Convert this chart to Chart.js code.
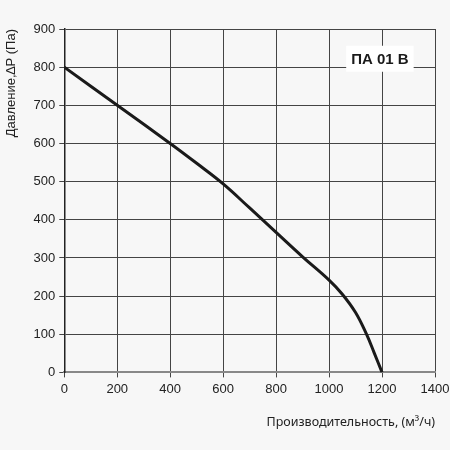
<!DOCTYPE html>
<html>
<head>
<meta charset="utf-8">
<script src="https://cdn.jsdelivr.net/npm/chart.js@4.4.0/dist/chart.umd.min.js"></script>
<style>
  html, body { margin: 0; padding: 0; background: #f7f7f7; }
  #wrap { width: 450px; height: 450px; }
</style>
</head>
<body>
<div id="wrap"><canvas id="fan_curve"></canvas></div>
<script>
// flow (m3/h) and pressure (Pa)
const flow = [0, 200, 400, 500, 600, 700, 800, 900, 1000, 1050, 1100, 1140, 1170, 1200];
const pressure = [800, 700, 600, 548, 494, 431, 367, 303, 242, 205, 157, 102, 52, 0];
const xTicks = [0, 200, 400, 600, 800, 1000, 1200, 1400];
const yTicks = [0, 100, 200, 300, 400, 500, 600, 700, 800, 900];
const modelName = 'ПА 01 В';

const labelBox = {
    id: 'labelBox',
    afterDraw(chart) {
        const ctx = chart.ctx;
        const x = chart.scales.x.getPixelForValue(1192);
        const y = chart.scales.y.getPixelForValue(822);
        ctx.save();
        ctx.font = 'bold 15px "Liberation Sans", Arial, sans-serif';
        const w = ctx.measureText(modelName).width + 10;
        ctx.fillStyle = '#ffffff';
        ctx.fillRect(x - w / 2, y - 13, w, 26);
        ctx.fillStyle = '#1a1a1a';
        ctx.textAlign = 'center';
        ctx.textBaseline = 'middle';
        ctx.fillText(modelName, x, y + 1);
        ctx.restore();
    }
};

const ctx = document.getElementById('fan_curve').getContext('2d');
const fanChart = new Chart(ctx, {
    type: 'line',
    data: {
        datasets: [{
            label: modelName,
            data: flow.map((f, i) => ({ x: f, y: pressure[i] })),
            borderColor: '#1a1a1a',
            borderWidth: 3,
            pointRadius: 0,
            tension: 0.4,
            fill: false
        }]
    },
    options: {
        responsive: true,
        maintainAspectRatio: false,
        animation: false,
        layout: { padding: { left: 0, right: 0, top: 29, bottom: 16 } },
        plugins: {
            legend: { display: false },
            tooltip: { enabled: false }
        },
        scales: {
            x: {
                type: 'linear',
                min: 0,
                max: 1400,
                afterBuildTicks: axis => { axis.ticks = xTicks.map(v => ({ value: v })); },
                afterFit: axis => { axis.paddingRight = 15; },
                grid: { color: '#444', lineWidth: 1, tickLength: 5 },
                border: { color: '#888', width: 2 },
                ticks: {
                    color: '#222',
                    font: { family: '"Liberation Sans", Arial, sans-serif', size: 13 },
                    padding: 4,
                    maxRotation: 0,
                    callback: v => String(v)
                },
                title: {
                    display: true,
                    text: 'Производительность, (м³/ч)',
                    align: 'end',
                    color: '#222',
                    font: { family: '"Noto Sans", sans-serif', size: 12.5 },
                    padding: { top: 14 }
                }
            },
            y: {
                min: 0,
                max: 900,
                afterBuildTicks: axis => { axis.ticks = yTicks.map(v => ({ value: v })); },
                grid: { color: '#444', lineWidth: 1, tickLength: 5 },
                border: { color: '#222', width: 1.5 },
                ticks: {
                    color: '#222',
                    font: { family: '"Liberation Sans", Arial, sans-serif', size: 13 },
                    padding: 4,
                    callback: v => String(v)
                },
                title: {
                    display: true,
                    text: 'Давление,∆P (Па)',
                    align: 'end',
                    color: '#222',
                    font: { family: '"Liberation Sans", Arial, sans-serif', size: 13 },
                    padding: { bottom: 10 }
                }
            }
        }
    },
    plugins: [labelBox]
});
</script>
</body>
</html>
